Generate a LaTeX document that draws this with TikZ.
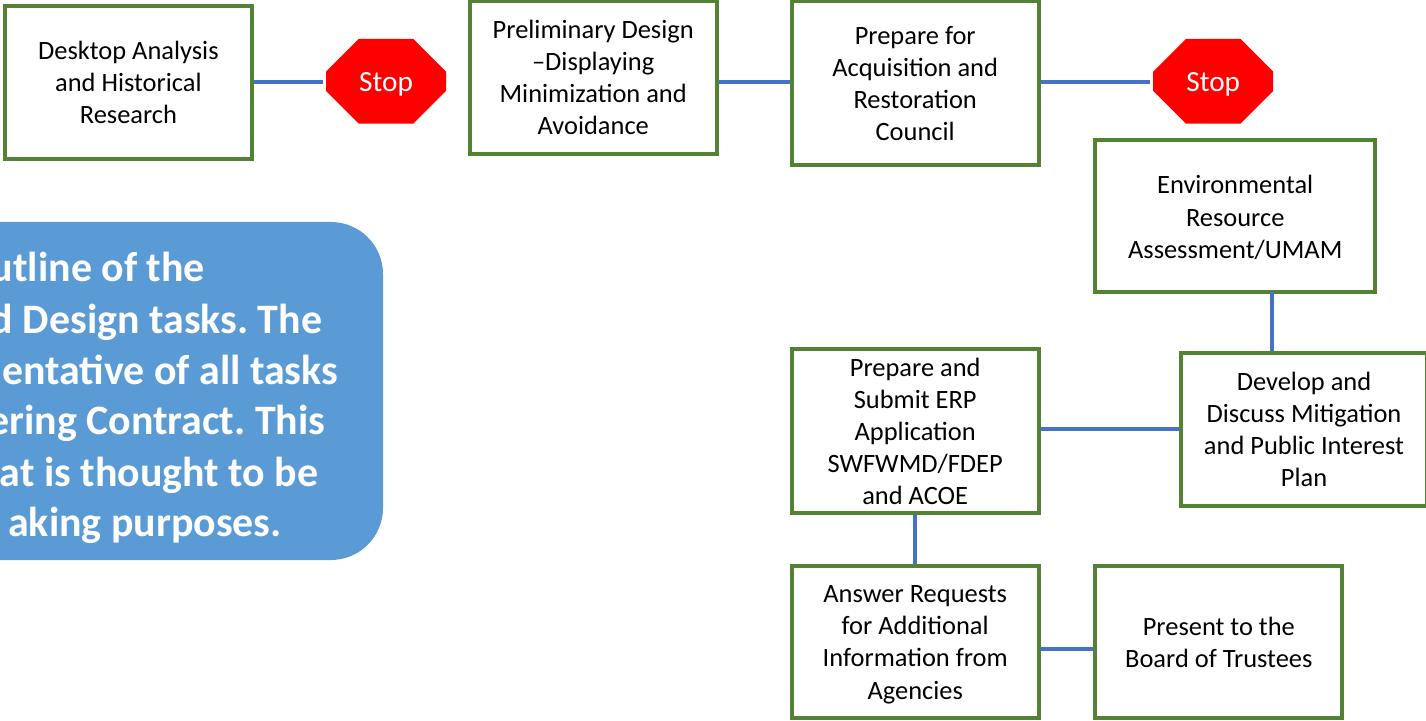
\documentclass[tikz,border=0pt]{standalone}
\usepackage{fontspec}
\setmainfont{Carlito}
\usetikzlibrary{shapes.misc}
\definecolor{boxgreen}{HTML}{548235}
\definecolor{linkblue}{HTML}{4472C4}
\definecolor{notefill}{HTML}{5B9BD5}
\tikzset{
    taskbox/.style={draw=boxgreen, line width=2.8pt, fill=white, align=center, inner sep=0pt,
        minimum width=6.17cm, minimum height=3.82cm, font=\fontsize{18.8}{22.8}\selectfont},
    stopsign/.style={chamfered rectangle, chamfered rectangle xsep=0.5cm, chamfered rectangle ysep=0.46cm,
        fill=red, text=white, inner sep=0pt, minimum width=3cm, minimum height=2.12cm, outer sep=0.07cm,
        text height=0.62cm, text depth=0.1cm, font=\fontsize{20.8}{24}\selectfont},
    link/.style={draw=linkblue, line width=2.8pt},
    notetext/.style={anchor=base east, text=white, inner sep=0pt, font=\fontsize{29.8}{33}\selectfont\bfseries\frenchspacing},
}
\begin{document}
\begin{tikzpicture}
\useasboundingbox (0, 0) rectangle (35.65, -18.025);
\begin{scope}
    % Note box, runs off the left edge
    \draw (-3, -5.55) node[fill=notefill, rounded corners=1.3cm, anchor=north west,
        minimum width=12.575cm, minimum height=8.45cm, inner sep=0pt, outer sep=0pt] (Note) {};
    \draw (5.13, -7.05) node[notetext] (N1) {utline of the};
    \draw (8.06, -8.33) node[notetext] (N2) {d Design tasks. The};
    \draw (8.46, -9.6) node[notetext] (N3) {entative of all tasks};
    \draw (8.14, -10.85) node[notetext] (N4) {ering Contract. This};
    \draw (7.96, -12.15) node[notetext] (N5) {at is thought to be};
    \draw (7.05, -13.42) node[notetext] (N6) {aking purposes.};

    % Define nodes
    \draw (3.21, -2.06) node[taskbox] (Desk) {Desktop Analysis\\and Historical\\Research};
    \draw (9.65, -2.03) node[stopsign] (StopA) {Stop};
    \draw (14.83, -1.94) node[taskbox] (Prelim) {Preliminary Design\\--Displaying\\Minimization and\\Avoidance};
    \draw (22.88, -2.08) node[taskbox, minimum height=4.1cm] (Council) {Prepare for\\Acquisition and\\Restoration\\Council};
    \draw (30.33, -2.03) node[stopsign] (StopB) {Stop};
    \draw (30.88, -5.4) node[taskbox, minimum width=7cm] (Env) {\rule{0pt}{0.8em}Environmental\\Resource\\Assessment/UMAM};
    \draw (32.6, -10.73) node[taskbox] (Mitig) {Develop and\\Discuss Mitigation\\and Public Interest\\Plan};
    \draw (22.88, -10.78) node[taskbox, minimum height=4.1cm] (Erp) {Prepare and\\Submit ERP\\Application\\SWFWMD/FDEP\\and ACOE};
    \draw (22.88, -16.05) node[taskbox] (Rfi) {\rule{0pt}{0.85em}Answer Requests\\for Additional\\Information from\\Agencies};
    \draw (30.47, -16.05) node[taskbox] (Board) {Present to the\\Board of Trustees};
    \coordinate (BoardIn) at (27.4, -16.22);
    \coordinate (EnvDrop) at (31.8, -7.3);

    % Links between the tasks
    \draw[link] (Desk.east) -- (Desk.east -| StopA.west);
    \draw[link] (Prelim.east |- Desk.east) -- (Council.west |- Desk.east);
    \draw[link] (Council.east |- Desk.east) -- (StopB.west |- Desk.east);
    \draw[link] (EnvDrop) -- (EnvDrop |- Mitig.north);
    \draw[link] (Erp.east |- Mitig.west) -- (Mitig.west);
    \draw[link] (Erp.south) -- (Rfi.north);
    \draw[link] (Rfi.east |- BoardIn) -- (Board.west |- BoardIn);
\end{scope}
\end{tikzpicture}
\end{document}
